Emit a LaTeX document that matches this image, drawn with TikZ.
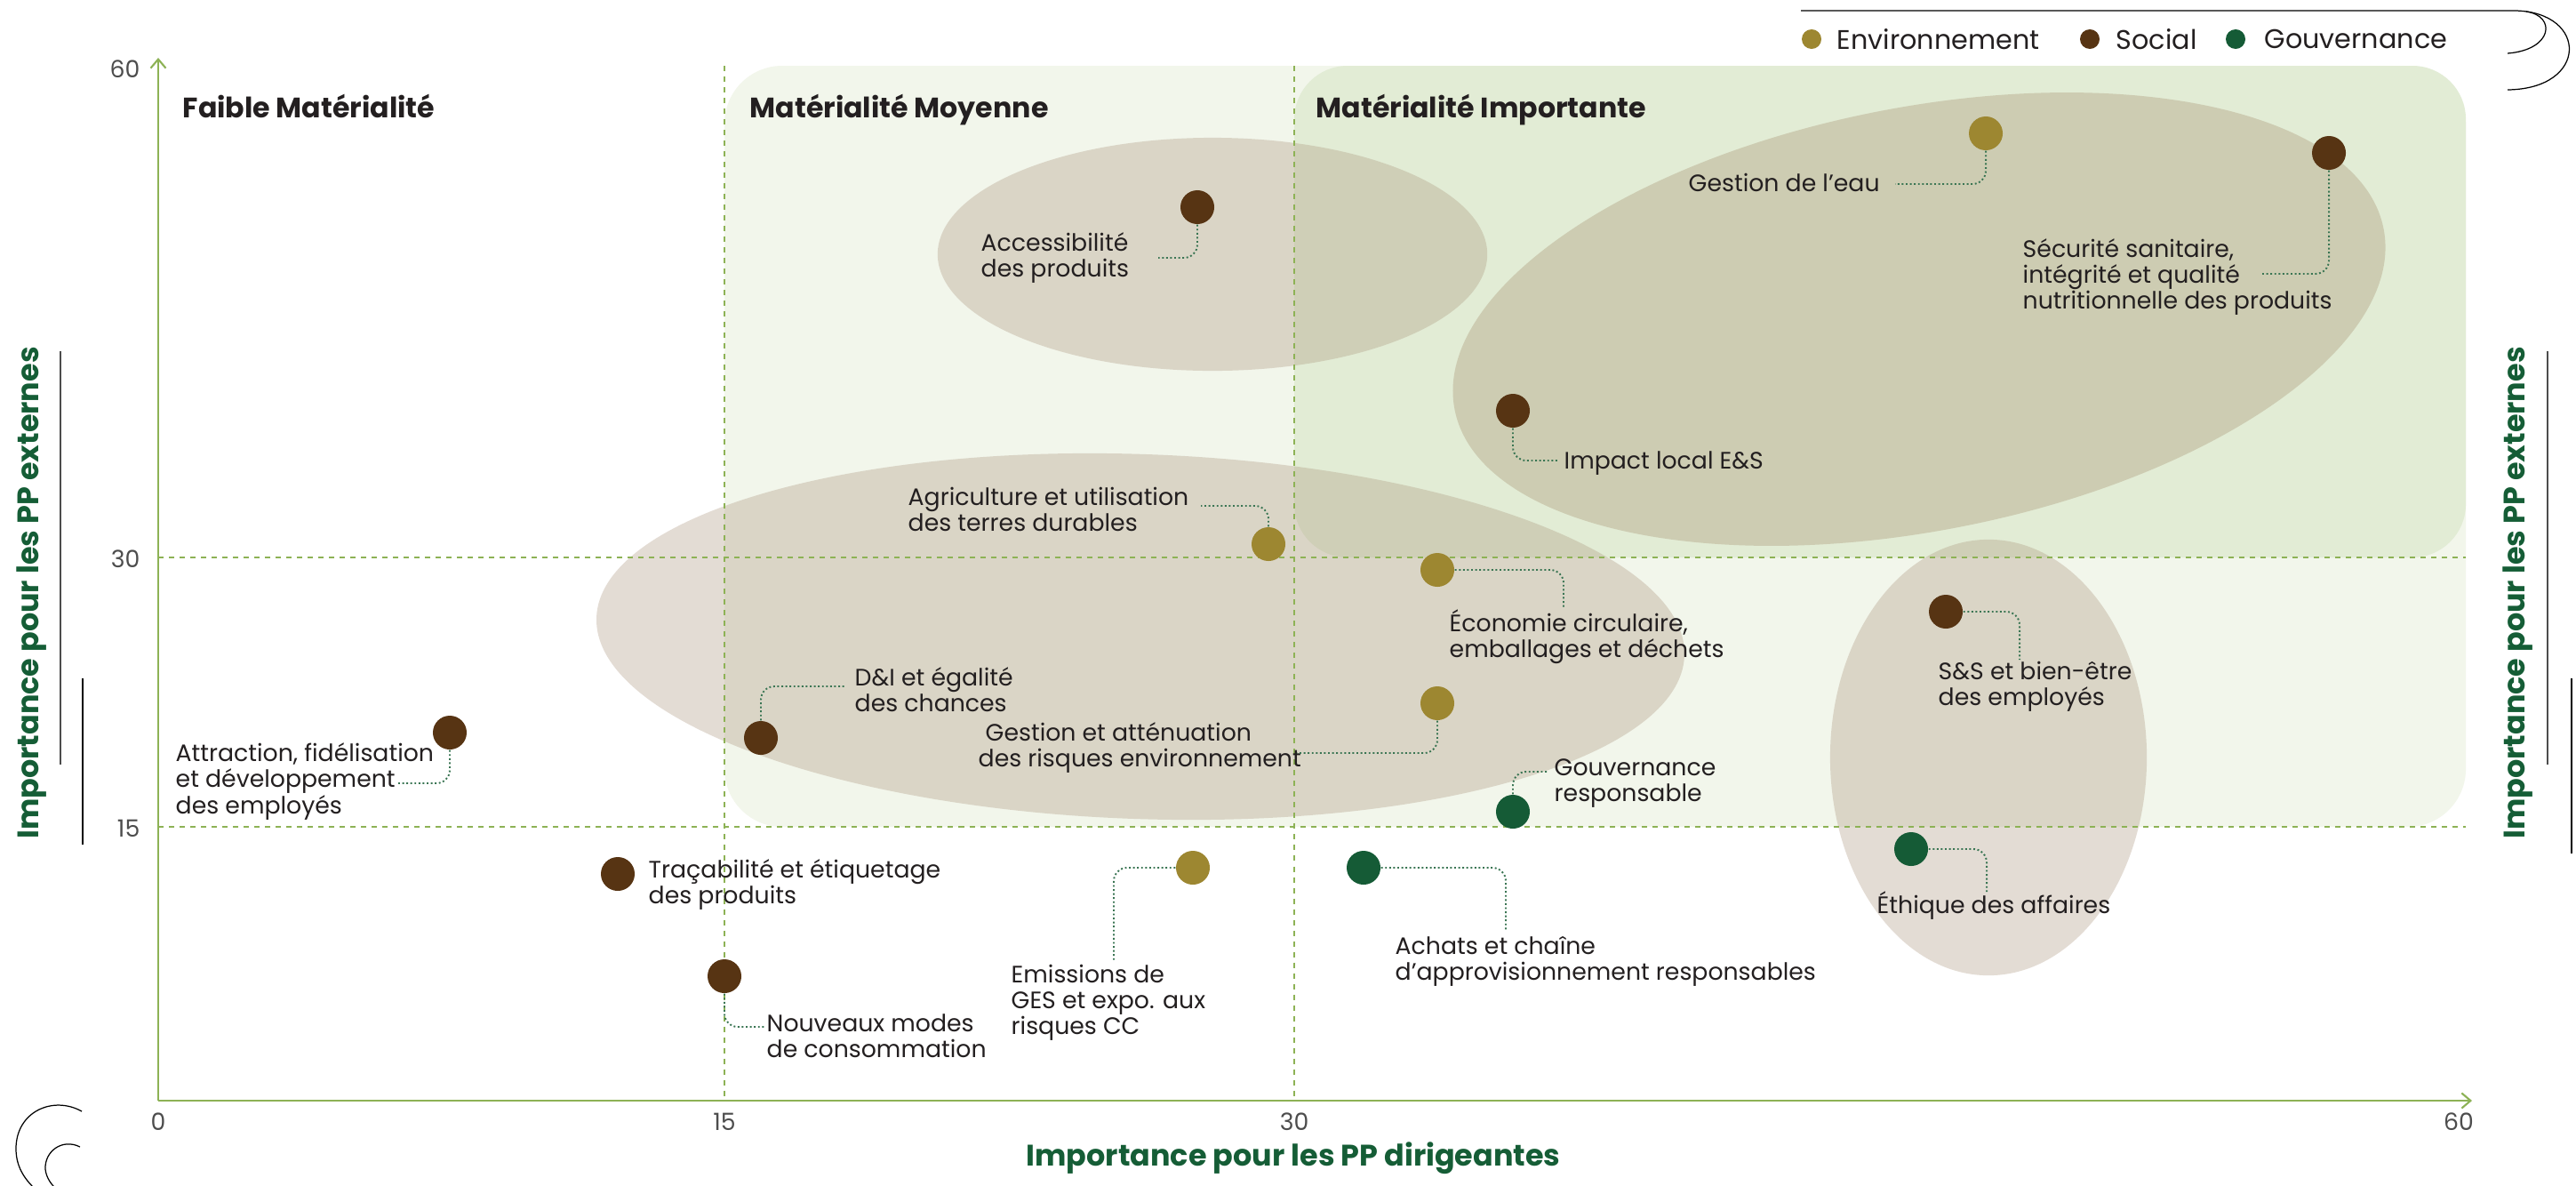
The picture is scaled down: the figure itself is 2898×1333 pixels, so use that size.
\documentclass[tikz,border=0pt]{standalone}
\usepackage{fontspec}
\setmainfont{Poppins}
\usetikzlibrary{arrows.meta}

\definecolor{axisgreen}{HTML}{8DB255}
\definecolor{boxlight}{HTML}{F2F6EB}
\definecolor{boxdark}{HTML}{E2ECD5}
\definecolor{blobc}{RGB}{165,140,115}
\definecolor{bigblobc}{HTML}{CDCCB2}
\definecolor{envc}{HTML}{9D8731}
\definecolor{socc}{HTML}{573413}
\definecolor{govc}{HTML}{155B36}
\definecolor{txt}{HTML}{231F20}
\definecolor{titlegreen}{HTML}{155D36}
\definecolor{tickgray}{HTML}{4D4D4D}
\definecolor{leadgreen}{HTML}{3A7553}

\begin{document}
\begin{tikzpicture}[x=0.01cm, y=-0.01cm,
  dot/.style={circle, inner sep=0pt, minimum size=0.38cm},
  legdot/.style={circle, inner sep=0pt, minimum size=0.22cm},
  lbl/.style={font=\fontsize{7.6}{8.25}\selectfont, text=txt, align=left, inner sep=0pt, anchor=west},
  lbl1/.style={font=\fontsize{7.6}{8.25}\selectfont, text=txt, inner sep=0pt, anchor=base west},
  head/.style={font=\bfseries\fontsize{9}{10}\selectfont, text=txt, inner sep=0pt, anchor=base west},
  axtitle/.style={font=\bfseries\fontsize{9.5}{10}\selectfont, text=titlegreen, inner sep=0pt},
  tick/.style={font=\fontsize{7.6}{8}\selectfont, text=tickgray, inner sep=0pt},
  legtext/.style={font=\fontsize{8.6}{9}\selectfont, text=txt, inner sep=0pt, anchor=west},
  lead/.style={draw=leadgreen, line width=0.55pt, dash pattern=on 0.55pt off 0.75pt, rounded corners=0.15cm},
  grid/.style={draw=axisgreen, line width=0.45pt, dash pattern=on 0.06cm off 0.06cm},
  axis/.style={draw=axisgreen, line width=0.6pt, -{Straight Barb[length=0.1cm, width=0.17cm]}},
  blob/.style={fill=blobc, fill opacity=0.3},
  deco/.style={draw=black, line width=0.35pt}
]
\useasboundingbox (0,0) rectangle (2898,1333);
\fill[white] (0,0) rectangle (2898,1333);

% materiality zones
\fill[boxlight, rounded corners=0.65cm] (815,74) rectangle (2774,930);
\fill[boxdark, rounded corners=0.6cm] (1456,74) rectangle (2774,627);

% topic clusters
\fill[bigblobc, rotate around={11:(2159,359)}] (2159,359) ellipse [x radius=5.32cm, y radius=2.38cm];
\fill[blob] (1364,286) ellipse [x radius=3.09cm, y radius=1.31cm];
\fill[blob, rotate around={-2:(1283,716)}] (1283,716) ellipse [x radius=6.12cm, y radius=2.05cm];
\fill[blob] (2237,852) ellipse [x radius=1.78cm, y radius=2.45cm];

% threshold lines
\draw[grid] (178,627) -- (2774,627);
\draw[grid] (178,930) -- (2774,930);
\draw[grid] (815,74) -- (815,1238);
\draw[grid] (1456,74) -- (1456,1238);

% axes
\coordinate (origin) at (178,1238);
\coordinate (ytop) at (178,65);
\coordinate (xend) at (2781,1238);
\draw[axis] (origin) -- (ytop);
\draw[axis] (origin) -- (xend);

% tick labels
\node[tick, anchor=east] (t60) at (158,78) {60};
\node[tick, anchor=east] (t30) at (158,629) {30};
\node[tick, anchor=east] (t15) at (158,932) {15};
\node[tick] (b0) at (178,1262) {0};
\node[tick] (b15) at (815,1262) {15};
\node[tick] (b30) at (1456,1262) {30};
\node[tick] (b60) at (2766,1262) {60};

% zone headings
\node[head] (hFaible) at (205,132) {Faible Matérialité};
\node[head] (hMoy) at (843,132) {Matérialité Moyenne};
\node[head] (hImp) at (1480,132) {Matérialité Importante};

% axis titles
\node[axtitle] (xTitle) at (1455,1303) {Importance pour les PP dirigeantes};
\node[axtitle, rotate=90] (yTitleL) at (36,667) {Importance pour les PP externes};
\node[axtitle, rotate=90] (yTitleR) at (2833,667) {Importance pour les PP externes};

% side rules
\draw[deco, draw=black!70] (68,395) -- (68,860);
\draw[deco] (93,763) -- (93,950);
\draw[deco, draw=black!70] (2866,395) -- (2866,860);
\draw[deco] (2893,763) -- (2893,960);

% topics: dots
\node[dot, fill=socc] (dAcc) at (1347,233) {};
\node[dot, fill=envc] (dEau) at (2234,150) {};
\node[dot, fill=socc] (dSec) at (2620,172) {};
\node[dot, fill=socc] (dImp) at (1702,462) {};
\node[dot, fill=envc] (dAgr) at (1427,612) {};
\node[dot, fill=envc] (dEco) at (1617,641) {};
\node[dot, fill=socc] (dSS) at (2189,688) {};
\node[dot, fill=socc] (dDI) at (856,830) {};
\node[dot, fill=socc] (dAtt) at (506,824) {};
\node[dot, fill=envc] (dGat) at (1617,791) {};
\node[dot, fill=govc] (dGou) at (1702,913) {};
\node[dot, fill=govc] (dEth) at (2150,955) {};
\node[dot, fill=socc] (dTra) at (695,983) {};
\node[dot, fill=envc] (dEmi) at (1342,976) {};
\node[dot, fill=govc] (dAch) at (1534,976) {};
\node[dot, fill=socc] (dNou) at (815,1098) {};

% topics: labels
\node[lbl] (lAcc) at (1103,290) {Accessibilité\\des produits};
\node[lbl1] (lEau) at (1899,215) {Gestion de l’eau};
\node[lbl] (lSec) at (2275,312) {Sécurité sanitaire,\\intégrité et qualité\\nutritionnelle des produits};
\node[lbl1] (lImp) at (1759,527) {Impact local E\&S};
\node[lbl] (lAgr) at (1021,573) {Agriculture et utilisation\\des terres durables};
\node[lbl] (lEco) at (1630,716) {Économie circulaire,\\emballages et déchets};
\node[lbl] (lSS) at (2180,772) {S\&S et bien-être\\des employés};
\node[lbl] (lDI) at (961,776) {D\&I et égalité\\des chances};
\node[lbl] (lAtt) at (197,879) {Attraction, fidélisation\\et développement\\des employés};
\node[lbl] (lGat) at (1100,841) {\hspace{0.08cm}Gestion et atténuation\\des risques environnement};
\node[lbl] (lGou) at (1748,881) {Gouvernance\\responsable};
\node[lbl1] (lEth) at (2111,1027) {Éthique des affaires};
\node[lbl] (lTra) at (729,995) {Traçabilité et étiquetage\\des produits};
\node[lbl] (lEmi) at (1137,1128) {Emissions de\\GES et expo. aux\\risques CC};
\node[lbl] (lAch) at (1569,1081) {Achats et chaîne\\d’approvisionnement responsables};
\node[lbl] (lNou) at (862,1165) {Nouveaux modes\\de consommation};

% leader ends
\coordinate (eAcc) at (1303,290);
\coordinate (eEau) at (2132,207);
\coordinate (eSec) at (2545,308);
\coordinate (eImp) at (1752,518);
\coordinate (eAgr) at (1351,569);
\coordinate (eEco) at (1759,685);
\coordinate (eSS) at (2272,742);
\coordinate (eDI) at (950,772);
\coordinate (eAtt) at (446,881);
\coordinate (eGat) at (1459,847);
\coordinate (eGou) at (1742,868);
\coordinate (eEth) at (2235,1003);
\coordinate (eEmi) at (1253,1080);
\coordinate (eAch) at (1694,1047);
\coordinate (eNou) at (860,1155);

% leaders
\draw[lead] (dAcc) |- (eAcc);
\draw[lead] (dEau) |- (eEau);
\draw[lead] (dSec) |- (eSec);
\draw[lead] (dImp) |- (eImp);
\draw[lead] (dAgr) |- (eAgr);
\draw[lead] (dEco) -| (eEco);
\draw[lead] (dSS) -| (eSS);
\draw[lead] (dDI) |- (eDI);
\draw[lead] (dAtt) |- (eAtt);
\draw[lead] (dGat) |- (eGat);
\draw[lead] (dGou) |- (eGou);
\draw[lead] (dEth) -| (eEth);
\draw[lead] (dEmi) -| (eEmi);
\draw[lead] (dAch) -| (eAch);
\draw[lead] (dNou) |- (eNou);

% legend
\node[legdot, fill=envc] (kEnvDot) at (2038,44) {};
\node[legtext] (kEnv) at (2066,44) {Environnement};
\node[legdot, fill=socc] (kSocDot) at (2351,44) {};
\node[legtext] (kSoc) at (2380,44) {Social};
\node[legdot, fill=govc] (kGovDot) at (2515,44) {};
\node[legtext] (kGov) at (2547,44) {Gouvernance};

% corner ornaments
\draw[deco] (2026,12) -- (2830,12) .. controls (2912,14) and (2912,100) .. (2821,101);
\draw[deco] (2842,13) .. controls (2876,18) and (2872,56) .. (2821,60);
\draw[deco] (92,1250) .. controls (60,1232) and (18,1250) .. (18,1292) .. controls (18,1315) and (30,1330) .. (48,1345);
\draw[deco] (90,1290) .. controls (70,1280) and (50,1295) .. (51,1315) .. controls (52,1325) and (58,1333) .. (66,1340);
\end{tikzpicture}
\end{document}
